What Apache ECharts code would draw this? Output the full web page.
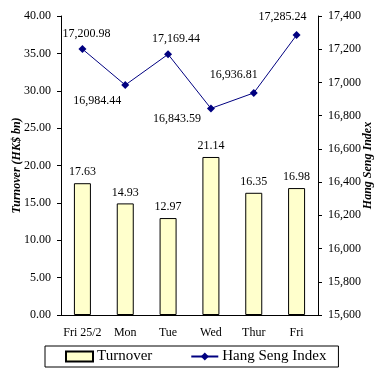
<!DOCTYPE html>
<html lang="en">
  <head>
    <meta charset="UTF-8" />
    <title>Turnover and Hang Seng Index</title>
    <script src="https://cdn.jsdelivr.net/npm/echarts@6/dist/echarts.min.js"></script>
    <style>
      html, body { margin: 0; padding: 0; background: #fff; }
    </style>
  </head>
  <body>
    <div id="main" style="width: 388px;height:377px;"></div>
    <script type="text/javascript">
      var days = ["Fri 25/2", "Mon", "Tue", "Wed", "Thur", "Fri"];
      var turnover = [17.63, 14.93, 12.97, 21.14, 16.35, 16.98];
      var hsi = [17200.98, 16984.44, 17169.44, 16843.59, 16936.81, 17285.24];

      // where each index label sits relative to its point
      var hsiLabelPos = [
        { position: "top", offset: [4, 0] },
        { position: "bottom", offset: [-28, 1] },
        { position: "top", offset: [8, 0] },
        { position: "bottom", offset: [-34, -5] },
        { position: "top", offset: [-20, -3] },
        { position: "top", offset: [-14, -3] }
      ];

      var font = "'Liberation Serif', 'Times New Roman', serif";

      var hsiData = hsi.map(function(v, i) {
        return { value: v, label: hsiLabelPos[i] };
      });

      var myChart = echarts.init(document.getElementById("main"));
      myChart.setOption({
        animation: false,
        textStyle: { fontFamily: font, color: "#000" },
        grid: { left: 61, right: 70, top: 16, bottom: 62, outerBoundsMode: "none", containLabel: false },
        legend: {
          left: 45,
          top: 346,
          padding: [3, 12, 3, 20],
          borderColor: "#000",
          borderWidth: 1,
          itemGap: 38,
          itemWidth: 27,
          itemHeight: 10,
          textStyle: { fontFamily: font, fontSize: 15, color: "#000", padding: [0, 0, 0, -1] },
          data: [{ name: "Turnover", icon: "rect" }, { name: "Hang Seng Index" }]
        },
        xAxis: {
          type: "category",
          data: days,
          axisLine: { lineStyle: { color: "#000" } },
          axisTick: { length: 4, lineStyle: { color: "#000" } },
          axisLabel: { interval: 0, fontFamily: font, fontSize: 12, color: "#000", margin: 12 }
        },
        yAxis: [
          {
            type: "value",
            min: 0,
            max: 40,
            interval: 5,
            name: "Turnover (HK$ bn)",
            nameLocation: "middle",
            nameRotate: 90,
            nameGap: 38,
            nameMoveOverlap: false,
            nameTextStyle: { fontFamily: font, fontSize: 12, fontWeight: "bold", fontStyle: "italic", color: "#000" },
            axisLine: { show: true, lineStyle: { color: "#000" } },
            axisTick: { show: true, length: 4, lineStyle: { color: "#000" } },
            splitLine: { show: false },
            axisLabel: {
              fontFamily: font, fontSize: 12, color: "#000", margin: 10,
              formatter: function(v) { return v.toFixed(2); }
            }
          },
          {
            type: "value",
            min: 15600,
            max: 17400,
            interval: 200,
            name: "Hang Seng Index",
            nameLocation: "middle",
            nameRotate: 90,
            nameGap: 44,
            nameMoveOverlap: false,
            nameTextStyle: { fontFamily: font, fontSize: 12, fontWeight: "bold", fontStyle: "italic", color: "#000" },
            axisLine: { show: true, lineStyle: { color: "#000" } },
            axisTick: { show: true, length: 4, lineStyle: { color: "#000" } },
            splitLine: { show: false },
            axisLabel: {
              fontFamily: font, fontSize: 12, color: "#000", margin: 10,
              formatter: function(v) { return v.toLocaleString("en-US"); }
            }
          }
        ],
        series: [
          {
            name: "Turnover",
            type: "bar",
            data: turnover,
            barWidth: 17,
            itemStyle: { color: "#FFFFCC", borderColor: "#000", borderWidth: 1 },
            label: {
              show: true,
              position: "top",
              distance: 5,
              fontFamily: font,
              fontSize: 12,
              color: "#000",
              formatter: function(p) { return p.value.toFixed(2); }
            }
          },
          {
            name: "Hang Seng Index",
            type: "line",
            yAxisIndex: 1,
            data: hsiData,
            symbol: "diamond",
            symbolSize: 8,
            lineStyle: { color: "#000080", width: 1 },
            itemStyle: { color: "#000080" },
            label: {
              show: true,
              distance: 5,
              fontFamily: font,
              fontSize: 12,
              color: "#000",
              formatter: function(p) {
                return p.value.toLocaleString("en-US", { minimumFractionDigits: 2, maximumFractionDigits: 2 });
              }
            }
          }
        ]
      });
    </script>
  </body>
</html>
